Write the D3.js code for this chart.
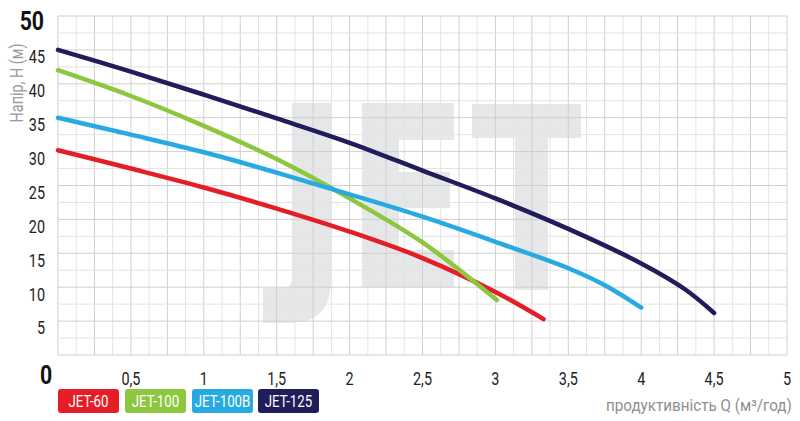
<!DOCTYPE html>
<html><head><meta charset="utf-8">
<script src="https://cdn.jsdelivr.net/npm/d3@7"></script>
<style>
html,body{margin:0;padding:0;background:#fff;}
svg{display:block;}
text{font-family:"Roboto","DejaVu Sans",sans-serif;}
</style></head>
<body><svg id="c" width="800" height="421"></svg>
<script>
const seriesNames = ["JET-60","JET-100","JET-100B","JET-125"];
const seriesColors = ["#e31e26","#8dc63f","#27aae1","#211d5b"];
const jet60Q   = [0, 0.5, 1.0, 1.5, 2.0, 2.5, 3.0, 3.33];
const jet60H   = [30.2, 27.5, 24.7, 21.6, 18.2, 14.3, 9.3, 5.3];
const jet100Q  = [0, 0.5, 1.0, 1.5, 2.0, 2.5, 3.01];
const jet100H  = [42.0, 38.2, 33.8, 28.9, 23.1, 16.6, 8.1];
const jet100BQ = [0, 0.5, 1.0, 1.5, 2.0, 2.5, 3.0, 3.5, 3.75, 4.0];
const jet100BH = [35.0, 32.5, 29.9, 26.9, 23.7, 20.4, 16.7, 12.8, 10.3, 7.0];
const jet125Q  = [0, 0.5, 1.0, 1.5, 2.0, 2.5, 3.0, 3.5, 4.0, 4.3, 4.5];
const jet125H  = [45.0, 41.8, 38.4, 34.9, 31.3, 27.2, 23.1, 18.6, 13.5, 9.7, 6.2];
const xTickValues = [0.5,1,1.5,2,2.5,3,3.5,4,4.5,5];
const xTickLabels = ["0,5","1","1,5","2","2,5","3","3,5","4","4,5","5"];
const yTickValues = [5,10,15,20,25,30,35,40,45];
const yTitle = "Напір, Н (м)";
const xTitle = "продуктивність Q (м³/год)";

const svg = d3.select("#c");
const x = d3.scaleLinear().domain([0,5]).range([58,787]);
const y = d3.scaleLinear().domain([0,50]).range([355,16]);

function ntext(g, px, py, str, o){
  return g.append("text")
    .attr("transform", `translate(${px},${py})${o.rot?` rotate(${o.rot})`:""} scale(${o.sx||0.8},1)`)
    .attr("dy","0.35em").attr("text-anchor", o.anchor||"middle")
    .attr("font-size", o.size||17).attr("fill", o.fill||"#222")
    .attr("font-weight", o.weight||"normal").text(str);
}

// background JET logo
const bg = svg.append("g").attr("fill","#e6e7e9");
bg.append("path").attr("d","M292,103 H331 V280 Q331,323 290,323 H263 V288 H284 Q292,288 292,276 Z");
bg.append("path").attr("d","M362,103 H454 V140 H399 V172 H450 V208 H399 V250 H454 V287 H362 Z");
bg.append("path").attr("d","M472,104 H581 V138 H548 V290 H515 V138 H472 Z");

// grid
const grid = svg.append("g");
const xMinor = d3.range(0, 5.0001, 0.125);
const yMinor = d3.range(0, 50.0001, 2.5);
grid.selectAll("line.xv").data(xMinor).join("line")
  .attr("x1",d=>x(d)).attr("x2",d=>x(d)).attr("y1",y(0)).attr("y2",y(50))
  .attr("stroke",(d,i)=> i%2===0 ? "#cfcfcf" : "#e3e3e3").attr("stroke-width",1);
grid.selectAll("line.yh").data(yMinor).join("line")
  .attr("y1",d=>y(d)).attr("y2",d=>y(d)).attr("x1",x(0)).attr("x2",x(5))
  .attr("stroke",(d,i)=> i%2===0 ? "#cfcfcf" : "#e3e3e3").attr("stroke-width",1);

// curves
const series = [
  {q:jet60Q,h:jet60H},{q:jet100Q,h:jet100H},{q:jet100BQ,h:jet100BH},{q:jet125Q,h:jet125H}
];
const line = d3.line().x(d=>x(d[0])).y(d=>y(d[1])).curve(d3.curveCatmullRom.alpha(0.5));
series.forEach((s,i)=>{
  const pts = s.q.map((q,j)=>[q,s.h[j]]);
  svg.append("path").attr("d",line(pts)).attr("fill","none")
    .attr("stroke",seriesColors[i]).attr("stroke-width",4.5).attr("stroke-linecap","round");
});

// y tick labels
const yl = svg.append("g");
yTickValues.forEach(v=> ntext(yl, 45, y(v)+7, v, {anchor:"end", size:18}));
ntext(svg, 44, 21, "50", {anchor:"end", size:25, weight:"bold", fill:"#111", sx:0.85});
ntext(svg, 46, 375, "0", {anchor:"middle", size:25, weight:"bold", fill:"#111", sx:0.85});

// x tick labels
const xl = svg.append("g");
xTickValues.forEach((v,i)=> ntext(xl, x(v), 379, xTickLabels[i], {size:18}));

// axis titles
ntext(svg, 17, 83, yTitle, {rot:-90, size:18, fill:"#9b9b9b"});
const xt = svg.append("text").attr("font-size",16).attr("fill","#8f8f8f").text(xTitle);
const w = xt.node().getComputedTextLength();
const sxT = Math.min(1, 186 / w);
xt.attr("transform", `translate(606,411) scale(${sxT},1)`);

// legend
const lg = svg.append("g");
const lx = [58,125,192,258];
seriesNames.forEach((n,i)=>{
  lg.append("rect").attr("x",lx[i]).attr("y",389).attr("width",61).attr("height",24)
    .attr("rx",3).attr("fill",seriesColors[i]);
  ntext(lg, lx[i]+30.5, 401, n, {size:17, fill:"#fff", sx:0.78});
});
</script></body></html>
